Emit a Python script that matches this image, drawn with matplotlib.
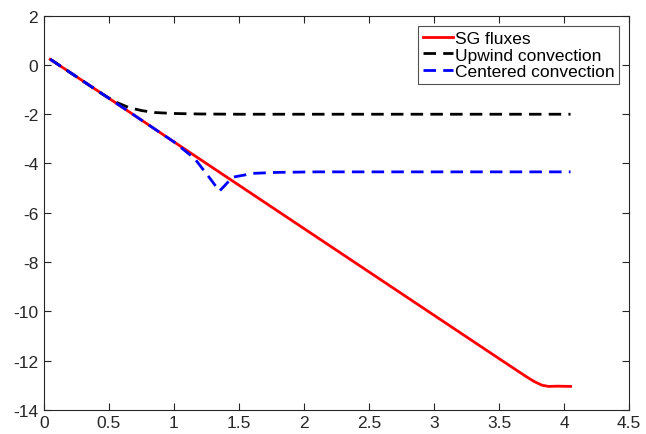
import matplotlib
matplotlib.use("Agg")
import matplotlib.pyplot as plt

plt.rcParams['font.family'] = ['Liberation Sans', 'DejaVu Sans']
plt.rcParams['axes.unicode_minus'] = False

# SG fluxes
sg_x = [0.05, 0.5, 1.0, 1.5, 2.0, 2.5, 3.0, 3.5, 3.62, 3.7, 3.77, 3.83, 3.88, 3.95, 4.05]
sg_y = [0.23, -1.35, -3.12, -4.88, -6.64, -8.40, -10.16, -11.92, -12.34, -12.62, -12.85, -13.0, -13.05, -13.04, -13.05]

# Upwind convection
up_x = [0.05, 0.45, 0.55, 0.65, 0.75, 0.85, 1.0, 1.2, 1.5, 4.05]
up_y = [0.23, -1.18, -1.5, -1.72, -1.85, -1.93, -1.97, -1.99, -2.0, -2.0]

# Centered convection
ce_x = [0.05, 0.5, 1.0, 1.16, 1.28, 1.35, 1.38, 1.45, 1.61, 1.8, 2.1, 4.05]
ce_y = [0.23, -1.35, -3.12, -3.8, -4.62, -5.12, -4.96, -4.56, -4.40, -4.36, -4.34, -4.34]

labels = ['SG fluxes', 'Upwind convection', 'Centered convection']

fig = plt.figure(figsize=(6.46, 4.35), dpi=100)
ax = fig.add_axes([0.0678, 0.0556, 0.906, 0.906])

ax.plot(sg_x, sg_y, color='#ff0000', lw=2, label=labels[0])
ax.plot(up_x, up_y, color='black', lw=2, dashes=(4.5, 2.6), label=labels[1])
ax.plot(ce_x, ce_y, color='#0000ff', lw=2, dashes=(4.5, 2.6), label=labels[2])

ax.set_xlim(0, 4.5)
ax.set_ylim(-14, 2)
ax.set_xticks([0, 0.5, 1, 1.5, 2, 2.5, 3, 3.5, 4, 4.5])
ax.set_xticklabels(['0', '0.5', '1', '1.5', '2', '2.5', '3', '3.5', '4', '4.5'])
ax.set_yticks(range(-14, 3, 2))

for s in ax.spines.values():
    s.set_color('#262626')
    s.set_linewidth(0.8)
ax.tick_params(direction='in', top=True, right=True, length=5, width=0.8,
               colors='#262626', labelsize=12.5, pad=4)

leg = ax.legend(loc='upper right', fontsize=12.5, frameon=True, fancybox=False,
                edgecolor='#262626', handlelength=1.75, handletextpad=0.1,
                borderpad=0.25, labelspacing=0.1, borderaxespad=0.6)
leg.get_frame().set_linewidth(0.8)

fig.savefig('out.png', dpi=100)
